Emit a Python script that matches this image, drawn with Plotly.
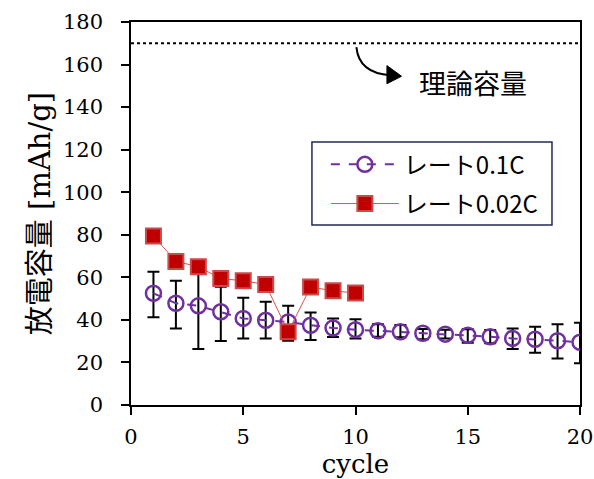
import plotly.graph_objects as go

# ---- data ----
cycles_01 = list(range(1, 21))
cap_01 = [52.5, 47.8, 46.6, 43.8, 40.7, 39.8, 39.0, 37.5, 36.2, 35.4,
          34.9, 34.4, 33.7, 33.3, 32.8, 32.1, 31.3, 30.9, 30.2, 29.5]
err_hi_01 = [62.6, 58.4, 65.0, 55.6, 50.4, 48.5, 46.7, 43.5, 40.6, 40.3,
             38.0, 37.6, 35.7, 35.4, 35.6, 35.2, 36.0, 36.8, 37.9, 38.7]
err_lo_01 = [41.2, 36.0, 26.3, 30.1, 31.2, 31.2, 30.2, 30.5, 32.0, 31.2,
             32.1, 31.8, 30.9, 31.3, 29.3, 29.0, 26.3, 24.6, 21.9, 19.6]

cycles_002 = list(range(1, 11))
cap_002 = [79.4, 67.5, 65.0, 59.4, 58.4, 56.6, 34.4, 55.4, 53.7, 52.6]

theory_cap = 170
series_names = ["レート0.1C", "レート0.02C"]
theory_label = "理論容量"
x_title = "cycle"
y_title = "放電容量 [mAh/g]"

PURPLE = "#7030A0"
RED = "#C00000"

plus = [h - c for h, c in zip(err_hi_01, cap_01)]
minus = [c - l for c, l in zip(cap_01, err_lo_01)]

fig = go.Figure()
fig.add_trace(go.Scatter(
    x=cycles_01, y=cap_01, name=series_names[0], mode="lines+markers",
    line=dict(color=PURPLE, width=2, dash="dash"),
    marker=dict(symbol="circle-open", size=15, color=PURPLE, line=dict(width=2.5, color=PURPLE)),
    error_y=dict(type="data", symmetric=False, array=plus, arrayminus=minus,
                 color="black", thickness=2, width=6),
    legendgroup="a",
))
fig.add_trace(go.Scatter(
    x=cycles_002, y=cap_002, name=series_names[1], mode="lines+markers",
    line=dict(color="#D9534F", width=1),
    marker=dict(symbol="square", size=15, color=RED, line=dict(width=2, color="#CC4A4A")),
    legendgroup="b",
))

# legend frame
fig.add_shape(type="rect", xref="paper", yref="paper", x0=0.403, x1=0.9376, y0=0.470, y1=0.6867,
              fillcolor="white", line=dict(color="#1F2A5A", width=1.5), layer="below")
# theoretical capacity line
fig.add_shape(type="line", xref="x", yref="y", x0=0, x1=20, y0=theory_cap, y1=theory_cap,
              line=dict(color="black", width=2, dash="dot"))
# curved arrow
fig.add_shape(type="path", xref="x", yref="y",
              path="M 10.04,168.2 Q 10.15,156.0 11.55,155.0",
              line=dict(color="black", width=2))
fig.add_shape(type="path", xref="x", yref="y",
              path="M 11.40,159.5 L 11.40,151.0 L 12.05,154.5 Z",
              fillcolor="black", line=dict(color="black", width=1))
fig.add_annotation(x=15.22, y=151.5, xref="x", yref="y", text=theory_label, showarrow=False,
                   font=dict(family="Noto Sans CJK JP", size=27, color="black"))

serif = "DejaVu Serif, Noto Sans CJK JP"
fig.update_layout(
    width=594, height=479,
    margin=dict(l=131, r=14, t=22, b=74),
    paper_bgcolor="white", plot_bgcolor="white",
    showlegend=True,
    legend=dict(x=0.434, y=0.686, xanchor="left", yanchor="top",
                bgcolor="rgba(0,0,0,0)", borderwidth=0,
                font=dict(family="Noto Sans CJK JP", size=24, color="black"),
                itemwidth=68, tracegroupgap=5, traceorder="grouped"),
    xaxis=dict(range=[0, 20], dtick=5, showgrid=False, zeroline=False, automargin=False,
               showline=True, linecolor="black", linewidth=1.5, mirror=True,
               ticks="outside", ticklen=8, tickwidth=1.5, tickcolor="black",
               ticklabelstandoff=4,
               tickfont=dict(family=serif, size=21, color="black"),
               title=dict(text=x_title, font=dict(family=serif, size=26, color="black"), standoff=8)),
    yaxis=dict(range=[0, 180], dtick=20, showgrid=False, zeroline=False, automargin=False,
               showline=True, linecolor="black", linewidth=1.5, mirror=True,
               ticks="outside", ticklen=8, tickwidth=1.5, tickcolor="black",
               ticklabelstandoff=14,
               tickfont=dict(family=serif, size=21, color="black"),
               title=dict(text=y_title, font=dict(family=serif, size=29, color="black"), standoff=4)),
)

fig.write_html("out.html")
